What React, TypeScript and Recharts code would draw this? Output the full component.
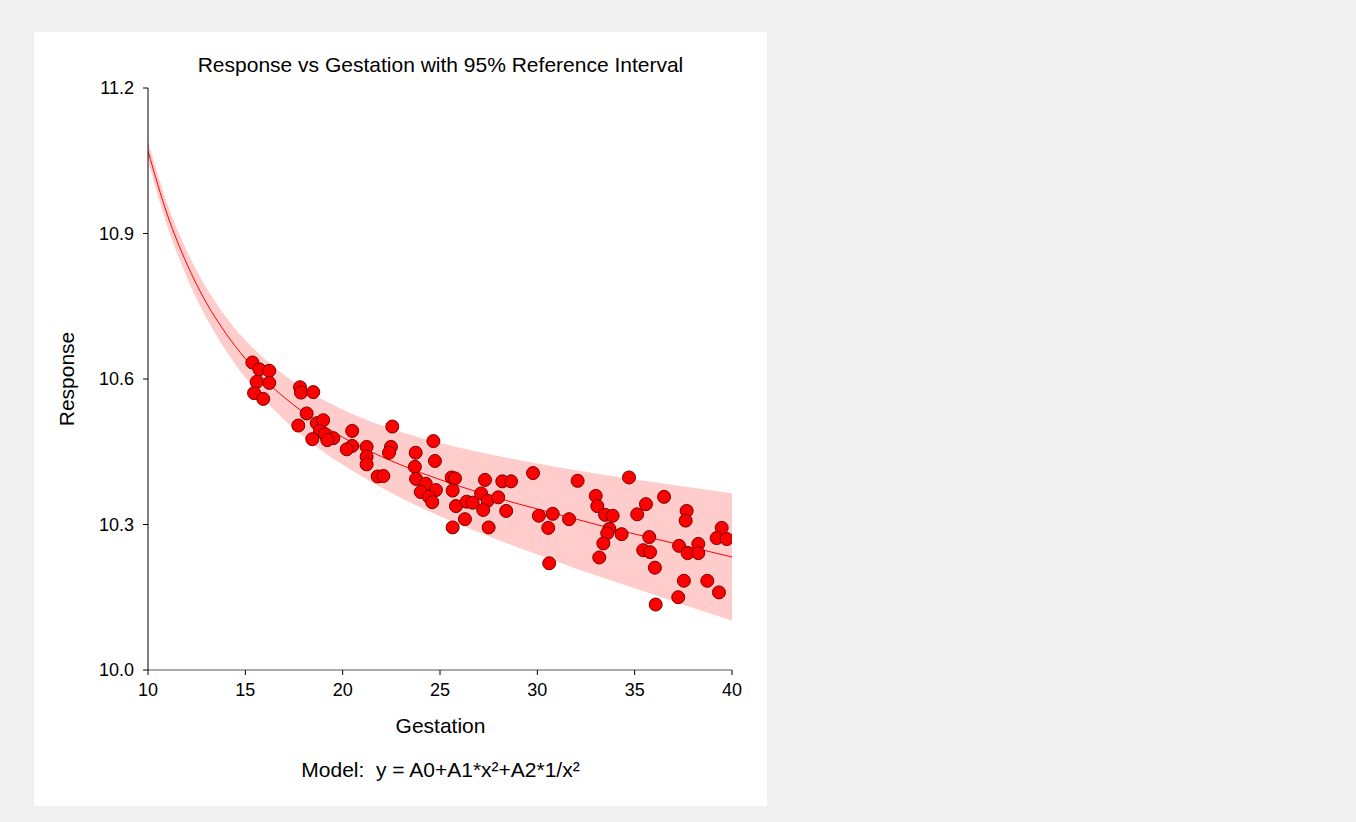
import { ComposedChart, Area, Line, Scatter, XAxis, YAxis } from 'recharts';

// observed points
const gestation = [
  15.36, 15.72, 16.23, 15.58, 16.23, 15.45, 15.92, 17.81, 17.86, 18.49,
  18.15, 17.72, 18.67, 19.0, 18.84, 19.09, 19.52, 19.21, 18.44, 20.49,
  20.49, 20.21, 21.23, 21.23, 22.55, 21.23, 21.8, 22.09, 22.48, 22.38,
  24.66, 23.75, 24.74, 23.71, 23.77, 24.27, 24.01, 24.79, 24.43, 24.6,
  25.6, 25.77, 25.65, 25.82, 26.37, 26.28, 25.65, 26.68, 27.11, 27.31,
  27.45, 27.22, 27.5, 27.99, 28.2, 28.65, 28.4, 29.78, 30.08, 30.79,
  30.56, 30.61, 31.63, 32.07, 33.0, 33.08, 33.48, 33.87, 33.7, 33.59,
  34.33, 33.39, 33.18, 34.71, 35.58, 35.13, 35.75, 35.44, 35.79, 36.04,
  36.08, 36.51, 37.67, 37.62, 37.28, 37.72, 38.27, 38.27, 37.53, 37.24,
  38.73, 39.33, 39.47, 39.21, 39.73,
];
const response = [
  10.634, 10.62, 10.617, 10.594, 10.592, 10.571, 10.559, 10.583, 10.572, 10.573,
  10.529, 10.504, 10.509, 10.515, 10.493, 10.486, 10.478, 10.474, 10.476, 10.493,
  10.462, 10.455, 10.46, 10.44, 10.502, 10.424, 10.399, 10.4, 10.46, 10.448,
  10.472, 10.448, 10.431, 10.419, 10.394, 10.384, 10.367, 10.371, 10.357, 10.346,
  10.397, 10.395, 10.37, 10.338, 10.347, 10.311, 10.294, 10.345, 10.364, 10.392,
  10.349, 10.33, 10.294, 10.356, 10.389, 10.389, 10.328, 10.406, 10.318, 10.322,
  10.293, 10.22, 10.311, 10.39, 10.359, 10.338, 10.32, 10.318, 10.291, 10.282,
  10.28, 10.261, 10.232, 10.397, 10.342, 10.321, 10.274, 10.247, 10.243, 10.211,
  10.135, 10.357, 10.328, 10.308, 10.256, 10.241, 10.26, 10.241, 10.184, 10.15,
  10.184, 10.16, 10.293, 10.272, 10.27,
];

// fitted curve and reference band
const curveX = [10, 11, 12, 13, 14, 15, 16, 17, 18, 19, 20, 22, 24, 26, 28, 30, 32, 34, 36, 38, 40];
const fitY = [
  11.07, 10.938, 10.837, 10.757, 10.694, 10.642, 10.598, 10.562, 10.531, 10.504, 10.48,
  10.44, 10.407, 10.379, 10.354, 10.332, 10.311, 10.29, 10.271, 10.252, 10.233,
];
const bandLow = [
  11.05, 10.914, 10.809, 10.726, 10.659, 10.603, 10.556, 10.516, 10.481, 10.45, 10.423,
  10.376, 10.335, 10.3, 10.268, 10.238, 10.209, 10.182, 10.155, 10.128, 10.102,
];
const bandHigh = [
  11.09, 10.961, 10.864, 10.788, 10.728, 10.68, 10.641, 10.608, 10.58, 10.557, 10.537,
  10.504, 10.479, 10.458, 10.441, 10.426, 10.412, 10.399, 10.387, 10.376, 10.364,
];

const xTicks = [10, 15, 20, 25, 30, 35, 40];
const yTicks = [10.0, 10.3, 10.6, 10.9, 11.2];

const curveData = curveX.map((x, i) => ({ x, fit: fitY[i], band: [bandLow[i], bandHigh[i]] }));
const points = gestation.map((x, i) => ({ x, y: response[i] }));

const font = 'Arial, "Liberation Sans", sans-serif';

function Dot(props: any) {
  const { cx, cy } = props;
  if (cx == null || cy == null) return null;
  return <circle cx={cx} cy={cy} r={6.5} fill="#ff0000" stroke="#7a0000" strokeWidth={1} />;
}

export default function App() {
  return (
    <div style={{ position: 'absolute', left: 0, top: 0, width: 1356, height: 822, background: '#f0f0f0', fontFamily: font }}>
      <div style={{ position: 'absolute', left: 34, top: 32, width: 733, height: 774, background: '#ffffff' }}>
        <ComposedChart
          width={733}
          height={774}
          data={curveData}
          margin={{ top: 56, right: 35, bottom: 96, left: 54 }}
        >
          <XAxis
            dataKey="x"
            type="number"
            domain={[10, 40]}
            ticks={xTicks}
            allowDataOverflow
            stroke="#555"
            tickSize={5}
            tickMargin={8}
            height={40}
            tick={{ fill: '#000', fontSize: 18, fontFamily: font }}
            tickLine={{ stroke: '#000' }}
          />
          <YAxis
            type="number"
            domain={[10, 11.2]}
            ticks={yTicks}
            allowDataOverflow
            width={60}
            stroke="#000"
            tickSize={5}
            tickMargin={9}
            tickFormatter={(v: number) => v.toFixed(1)}
            tick={{ fill: '#000', fontSize: 18, fontFamily: font }}
          />
          <Area
            type="monotone"
            dataKey="band"
            stroke="none"
            fill="#ffcccc"
            fillOpacity={1}
            isAnimationActive={false}
            activeDot={false}
          />
          <Line
            type="monotone"
            dataKey="fit"
            stroke="#ff0000"
            strokeWidth={1}
            dot={false}
            activeDot={false}
            isAnimationActive={false}
          />
          <Scatter data={points} dataKey="y" shape={<Dot />} isAnimationActive={false} />
        </ComposedChart>
        <div style={{ position: 'absolute', left: 0, width: 813, top: 21, textAlign: 'center', fontSize: 21, color: '#000' }}>
          Response vs Gestation with 95% Reference Interval
        </div>
        <div style={{ position: 'absolute', left: 0, width: 813, top: 682, textAlign: 'center', fontSize: 21, color: '#000' }}>
          Gestation
        </div>
        <div style={{ position: 'absolute', left: 0, width: 813, top: 726, textAlign: 'center', fontSize: 21, color: '#000' }}>
          Model:&nbsp; y = A0+A1*x²+A2*1/x²
        </div>
        <div
          style={{
            position: 'absolute',
            left: 33 - 60,
            top: 347 - 12,
            width: 120,
            textAlign: 'center',
            fontSize: 21,
            color: '#000',
            transform: 'rotate(-90deg)',
          }}
        >
          Response
        </div>
      </div>
    </div>
  );
}
